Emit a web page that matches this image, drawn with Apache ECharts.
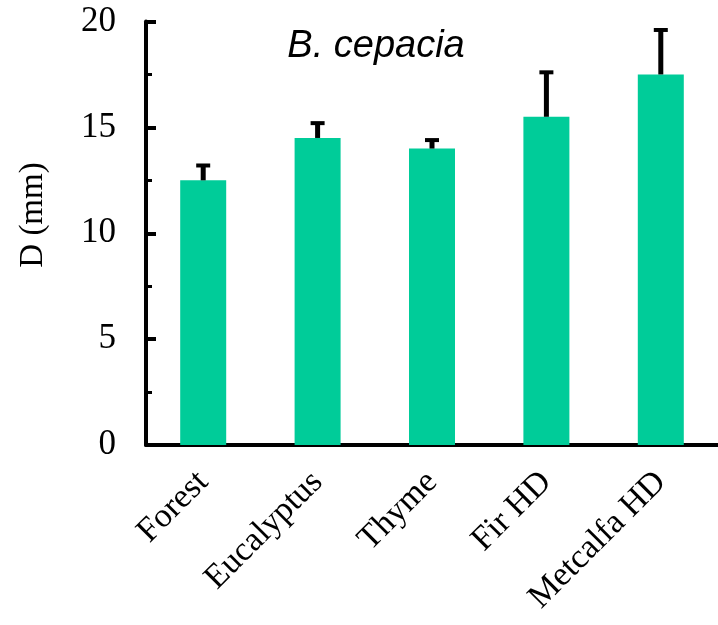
<!DOCTYPE html>
<html>
<head>
<meta charset="utf-8">
<script src="https://cdn.jsdelivr.net/npm/echarts@6/dist/echarts.min.js"></script>
<style>
html,body{margin:0;padding:0;background:#fff;}
#chart{width:718px;height:625px;}
</style>
</head>
<body>
<div id="chart"></div>
<script>
const categories = ['Forest', 'Eucalyptus', 'Thyme', 'Fir HD', 'Metcalfa HD'];
const means = [12.5, 14.5, 14.0, 15.5, 17.5];
const errors = [0.7, 0.7, 0.4, 2.1, 2.1];
const yTicks = [0, 5, 10, 15, 20];
const titleText = 'B. cepacia';
const yName = 'D (mm)';

const chart = echarts.init(document.getElementById('chart'), null, {renderer: 'canvas'});
const serif = '"Liberation Serif", "Times New Roman", serif';

const errData = categories.map((c, i) => [i, means[i], errors[i]]);

chart.setOption({
  backgroundColor: '#ffffff',
  animation: false,
  grid: {left: 146, right: -5, top: 21.5, bottom: 180, containLabel: false},
  graphic: [
    {type: 'text', position: [376, 46], style: {text: titleText, font: 'italic 38px "Liberation Sans", Arial, sans-serif', fill: '#000', textAlign: 'center', textVerticalAlign: 'middle'}},
    {type: 'text', rotation: Math.PI / 2, position: [33, 215], style: {text: yName, font: '33px ' + serif, fill: '#000', textAlign: 'center', textVerticalAlign: 'middle'}}
  ],
  xAxis: {
    type: 'category',
    data: categories,
    axisLine: {lineStyle: {color: '#000', width: 4}},
    axisTick: {show: false},
    axisLabel: {rotate: 45, color: '#000', fontFamily: serif, fontSize: 34, margin: 32, interval: 0},
    splitLine: {show: false}
  },
  yAxis: {
    type: 'value',
    min: yTicks[0],
    max: yTicks[yTicks.length - 1],
    interval: 5,
    axisLine: {show: true, lineStyle: {color: '#000', width: 4}},
    axisTick: {show: true, inside: true, length: 10, lineStyle: {color: '#000', width: 4}},
    minorTick: {show: true, splitNumber: 2, length: 6, lineStyle: {color: '#000', width: 3}},
    axisLabel: {color: '#000', fontFamily: serif, fontSize: 35, margin: 30},
    splitLine: {show: false}
  },
  series: [
    {
      type: 'bar',
      data: means,
      barWidth: 46,
      itemStyle: {color: '#00CC99'},
      z: 2
    },
    {
      type: 'custom',
      data: errData,
      z: 3,
      renderItem: function (params, api) {
        const i = api.value(0);
        const v = api.value(1);
        const e = api.value(2);
        const p0 = api.coord([i, v]);
        const p1 = api.coord([i, v + e]);
        return {
          type: 'group',
          children: [
            {type: 'line', shape: {x1: p0[0], y1: p0[1], x2: p1[0], y2: p1[1]}, style: {stroke: '#000', lineWidth: 5}},
            {type: 'line', shape: {x1: p1[0] - 7, y1: p1[1], x2: p1[0] + 7, y2: p1[1]}, style: {stroke: '#000', lineWidth: 4}}
          ]
        };
      }
    }
  ]
});
</script>
</body>
</html>
